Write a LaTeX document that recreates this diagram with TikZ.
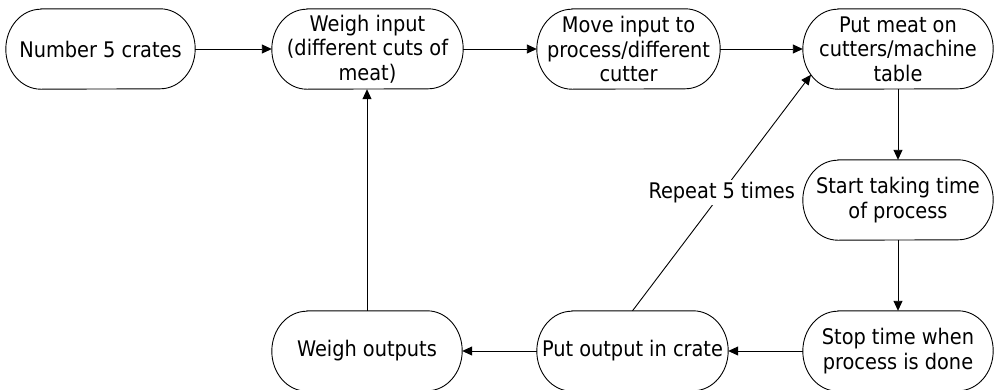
\documentclass[tikz,border=0pt]{standalone}
\usepackage{fontspec}
\setmainfont{DejaVu Sans Condensed}
\usetikzlibrary{arrows.meta,calc}
\begin{document}
\begin{tikzpicture}[x=1pt,y=1pt,
  term/.style={minimum height=80pt, inner sep=0pt, align=center, font=\fontsize{21.5}{24.5}\selectfont},
  conn/.style={-{Triangle[length=10pt,width=9pt]}, line width=0.9pt},
  outline/.style={line width=0.9pt},
  lbl/.style={fill=white, inner sep=2pt, font=\fontsize{21.5}{24.5}\selectfont}]
\useasboundingbox (0,0) rectangle (994,-389);
\node[term, minimum width=189pt] (a) at (100.5,-49) {Number 5 crates};
\node[term, minimum width=191pt] (b) at (367.5,-49) {Weigh input\\(different cuts of\\meat)};
\node[term, minimum width=183pt] (c) at (628.5,-49) {Move input to\\process/different\\cutter};
\node[term, minimum width=190pt] (d) at (898,-49) {Put meat on\\cutters/machine\\table};
\node[term, minimum width=190pt] (e) at (898,-200) {Start taking time\\of process};
\node[term, minimum width=190pt] (f) at (898,-351) {Stop time when\\process is done};
\node[term, minimum width=191pt] (g) at (632.5,-351) {Put output in crate};
\node[term, minimum width=190pt] (h) at (367,-351) {Weigh outputs};
\foreach \n in {a,b,c,d,e,f,g,h}
  \draw[outline] ([xshift=35pt]\n.north west) -- ([xshift=-35pt]\n.north east)
    arc[start angle=90,end angle=-90,x radius=35pt,y radius=40pt]
    -- ([xshift=35pt]\n.south west)
    arc[start angle=270,end angle=90,x radius=35pt,y radius=40pt] -- cycle;
\coordinate (dend) at ($(d.west)+(35,0)+(220:35 and 40)$);
\draw[conn] (a) -- (b);
\draw[conn] (b) -- (c);
\draw[conn] (c) -- (d);
\draw[conn] (d) -- (e);
\draw[conn] (e) -- (f);
\draw[conn] (f) -- (g);
\draw[conn] (g) -- (h);
\draw[conn] (h.north) -- (h.north |- b.south);
\draw[conn] (g.north) -- (dend) node[midway, lbl] {Repeat 5 times};
\end{tikzpicture}
\end{document}
